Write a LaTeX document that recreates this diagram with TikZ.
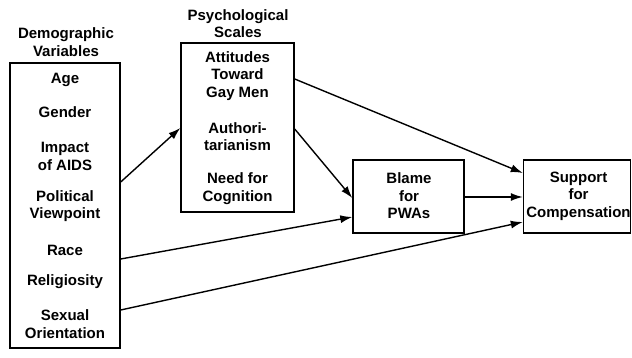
\documentclass[tikz,border=0pt]{standalone}
\usepackage{fontspec}
\setmainfont{Liberation Sans}
\usetikzlibrary{arrows.meta}
\begin{document}
\begin{tikzpicture}[x=1pt,y=1pt,
  box/.style={draw,line width=1.4pt,inner sep=0pt},
  lbl/.style={align=center,inner sep=0pt,font=\bfseries\fontsize{15}{17.5}\selectfont},
  arr/.style={line width=1.4pt,-{Latex[length=12pt,width=8pt]}},
  ln/.style={line width=1.4pt}]
\useasboundingbox (0,0) rectangle (632,358);
% boxes
\node[box,minimum width=110pt,minimum height=285pt] (demo) at (65,152.5) {};
\node[box,minimum width=113pt,minimum height=169pt] (psych) at (237.5,230.5) {};
\node[box,minimum width=111pt,minimum height=73pt] (blame) at (408.5,161.5) {};
\node[box,minimum width=107pt,minimum height=73pt] (support) at (577,161.5) {};
% titles
\node[lbl] (tdemo) at (66,316) {Demographic\\Variables};
\node[lbl] (tpsych) at (238,334.5) {Psychological\\Scales};
% demographic items
\node[lbl] (age) at (65,278) {Age};
\node[lbl] (gender) at (65,246) {Gender};
\node[lbl] (impact) at (65,201.5) {Impact\\of AIDS};
\node[lbl] (polit) at (65,152) {Political\\Viewpoint};
\node[lbl] (race) at (65,108) {Race};
\node[lbl] (relig) at (65,76) {Religiosity};
\node[lbl] (sexual) at (65,34) {Sexual\\Orientation};
% psychological items
\node[lbl] (att) at (237.5,282) {Attitudes\\Toward\\Gay Men};
\node[lbl] (auth) at (237.5,221.5) {Authori-\\tarianism};
\node[lbl] (need) at (237.5,169.5) {Need for\\Cognition};
% blame and support
\node[lbl] (tblame) at (409,162) {Blame\\for\\PWAs};
\node[lbl] (tsupport) at (578.5,162) {Support\\for\\Compensation};
% arrows
\draw[arr] ([yshift=23.5pt]demo.east) -- ([yshift=-0.5pt]psych.west);
\draw[arr] ([yshift=48.5pt]psych.east) -- ([yshift=23.5pt]support.west);
\draw[arr] ([yshift=-1.5pt]psych.east) -- ([yshift=-1.5pt]blame.west);
\draw[arr] ([yshift=-53.5pt]demo.east) -- ([yshift=-20.5pt]blame.west);
\draw[arr] ([yshift=-104.5pt]demo.east) -- ([yshift=-25.5pt]support.west);
\draw[arr] ([yshift=-0.5pt]blame.east) -- ([yshift=-0.5pt]support.west);
\end{tikzpicture}
\end{document}
